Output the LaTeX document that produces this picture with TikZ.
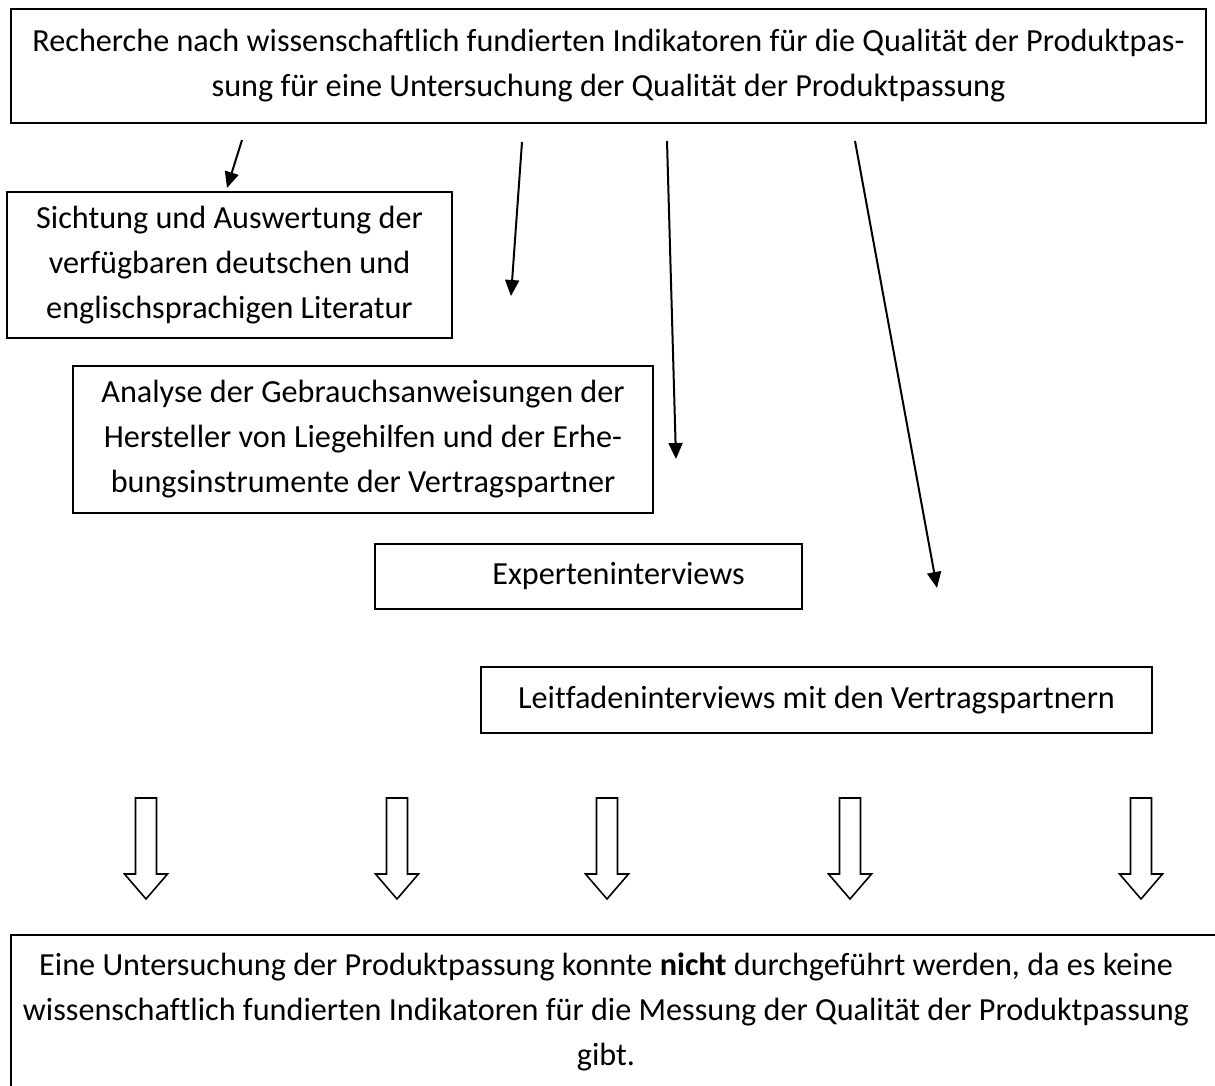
\documentclass[tikz,border=0pt]{standalone}
\usepackage{fontspec}
\setmainfont{Carlito}[Ligatures={NoCommon}]
\usetikzlibrary{arrows.meta}
\begin{document}
\begin{tikzpicture}[x=0.5pt,y=-0.5pt,
  txtfont/.style={font=\fontsize{16.1pt}{22.5pt}\selectfont},
  box/.style={draw, line width=1pt, inner sep=0pt, align=center, txtfont},
  txt/.style={inner sep=0pt, align=center, txtfont},
  thinarrow/.style={line width=1pt, -{Triangle[length=8pt,width=7pt]}},
  blockarrow/.pic={\draw[line width=0.8pt, fill=white] (-10.5,0) -- (-10.5,76) -- (-21.5,76) -- (0,101) -- (21.5,76) -- (10.5,76) -- (10.5,0) -- cycle;}]
\useasboundingbox (0,0) rectangle (1215,1086);
\clip (0,0) rectangle (1215,1086);
% boxes
\node[box, minimum width=597.5pt, minimum height=57pt] (top) at (608.5,66)
  {Recherche nach wissenschaftlich fundierten Indikatoren für die Qualität der Produktpas-\\sung für eine Untersuchung der Qualität der Produktpassung};
\node[box, minimum width=222.5pt, minimum height=73pt] (lit) at (229.5,265)
  {Sichtung und Auswertung der\\verfügbaren deutschen und\\englischsprachigen Literatur};
\node[box, minimum width=290pt, minimum height=73.5pt] (ana) at (363,439.5)
  {Analyse der Gebrauchsanweisungen der\\Hersteller von Liegehilfen und der Erhe-\\bungsinstrumente der Vertragspartner};
\node[box, minimum width=213.5pt, minimum height=32.5pt] (exp) at (588.5,576.5)
  {\hspace*{30pt}Experteninterviews};
\node[box, minimum width=335.5pt, minimum height=33pt] (leit) at (816.5,700)
  {Leitfadeninterviews mit den Vertragspartnern};
\node[box, minimum width=644.5pt, minimum height=107.5pt] (res) at (655.5,1042.5) {};
\node[txt] (restxt) at (606,1012)
  {Eine Untersuchung der Produktpassung konnte \textbf{nicht} durchgeführt werden, da es keine\\wissenschaftlich fundierten Indikatoren für die Messung der Qualität der Produktpassung\\gibt.};
% thin arrows
\coordinate (s1) at (242,140); \coordinate (e1) at (227,188);
\coordinate (s2) at (522,142); \coordinate (e2) at (511,296);
\coordinate (s3) at (667,141); \coordinate (e3) at (676,459);
\coordinate (s4) at (855,141); \coordinate (e4) at (937,588);
\draw[thinarrow] (s1) -- (e1);
\draw[thinarrow] (s2) -- (e2);
\draw[thinarrow] (s3) -- (e3);
\draw[thinarrow] (s4) -- (e4);
% block arrows
\foreach \x/\n in {146/b1,397/b2,607/b3,850/b4,1141/b5}
  \pic (\n) at (\x,798) {blockarrow};
\end{tikzpicture}
\end{document}
